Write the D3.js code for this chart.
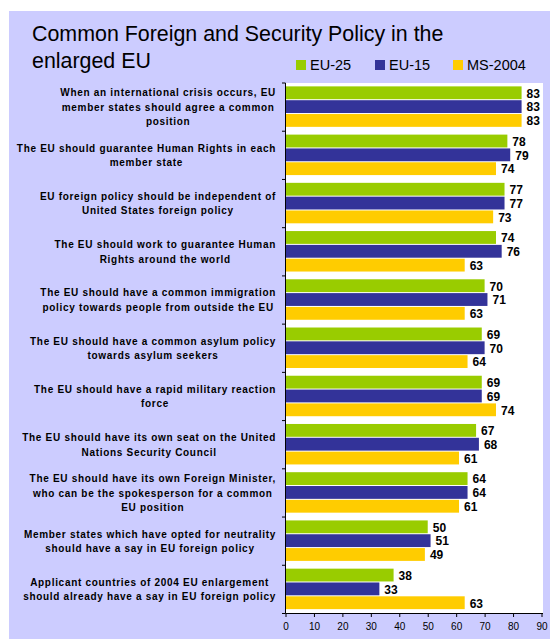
<!DOCTYPE html>
<html><head><meta charset="utf-8">
<script src="https://cdn.jsdelivr.net/npm/d3@7"></script>
<style>body{margin:0;background:#fff;} svg{display:block;}</style>
</head><body>
<script>
const categories = [
  ["When an international crisis occurs, EU","member states should agree a common","position"],
  ["The EU should guarantee Human Rights in each","member state"],
  ["EU foreign policy should be independent of","United States foreign policy"],
  ["The EU should work to guarantee Human","Rights around the world"],
  ["The EU should have a common immigration","policy towards people from outside the EU"],
  ["The EU should have a common asylum policy","towards asylum seekers"],
  ["The EU should have a rapid military reaction","force"],
  ["The EU should have its own seat on the United","Nations Security Council"],
  ["The EU should have its own Foreign Minister,","who can be the spokesperson for a common","EU position"],
  ["Member states which have opted for neutrality","should have a say in EU foreign policy"],
  ["Applicant countries of 2004 EU enlargement","should already have a say in EU foreign policy"]
];
const seriesNames = ["EU-25","EU-15","MS-2004"];
const eu25  = [83,78,77,74,70,69,69,67,64,50,38];
const eu15  = [83,79,77,76,71,70,69,68,64,51,33];
const ms2004= [83,74,73,63,63,64,74,61,61,49,63];
const xTicks = [0,10,20,30,40,50,60,70,80,90];
const colors = ["#99cc00","#333399","#ffcc00"];
const title = ["Common Foreign and Security Policy in the","enlarged EU"];

(function(){
const W=550,H=639;
const svg=d3.select("body").append("svg").attr("width",W).attr("height",H);
svg.append("rect").attr("x",9).attr("y",11).attr("width",W-9).attr("height",H-11).attr("fill","#ccccff");

const pL=285.5, pR=543, pT=83, pB=613.5;
svg.append("rect").attr("x",pL).attr("y",pT).attr("width",pR-pL).attr("height",pB-pT).attr("fill","#fff");

const x=d3.scaleLinear().domain([0,90]).range([pL,pL+256]);
const idx=d3.range(categories.length);
const y=d3.scaleBand().domain(idx).range([pT,pB]).paddingInner(0.14).paddingOuter(0.07);
const sub=d3.scaleBand().domain([0,1,2]).range([0,y.bandwidth()]);
const series=[eu25,eu15,ms2004];
const FF="Liberation Sans, Arial, sans-serif";

title.forEach((t,i)=>svg.append("text").attr("x",32).attr("y",41+i*27)
  .attr("font-family",FF).attr("font-size",21.4).attr("fill","#000").text(t));

const legX=[296,375,453];
seriesNames.forEach((n,i)=>{
  svg.append("rect").attr("x",legX[i]).attr("y",60).attr("width",10).attr("height",10).attr("fill",colors[i]);
  svg.append("text").attr("x",legX[i]+14).attr("y",70).attr("font-family",FF)
    .attr("font-size",14.5).attr("fill","#000").text(n);
});

series.forEach((vals,s)=>{
  const g=svg.append("g");
  g.selectAll("rect").data(idx).join("rect")
    .attr("x",pL).attr("y",d=>y(d)+sub(s)).attr("width",d=>x(vals[d])-pL)
    .attr("height",sub.bandwidth()-1).attr("fill",colors[s]);
  g.selectAll("text").data(idx).join("text")
    .attr("x",d=>x(vals[d])+5).attr("y",d=>y(d)+sub(s)+sub.bandwidth()/2)
    .attr("dy","0.36em").attr("font-family",FF)
    .attr("font-weight","bold").attr("font-size",12).attr("fill","#000").text(d=>vals[d]);
});

const step=(pB-pT)/categories.length;
svg.append("line").attr("x1",pL).attr("x2",pL).attr("y1",pT).attr("y2",pB).attr("stroke","#000");
d3.range(categories.length+1).forEach(k=>{
  svg.append("line").attr("x1",pL-3.5).attr("x2",pL).attr("y1",pT+k*step).attr("y2",pT+k*step).attr("stroke","#000");
});

const xa=svg.append("g").attr("transform",`translate(0,${pB})`)
  .call(d3.axisBottom(x).tickValues(xTicks).tickSize(3.5).tickSizeOuter(0).tickPadding(6));
xa.select(".domain").attr("stroke","#000").attr("d",`M${pL},0H${pR}`);
xa.selectAll("line").attr("stroke","#000");
xa.selectAll("text").attr("font-family",FF).attr("font-size",10).attr("fill","#000");

const lblRight=276, lh=14.5;
categories.forEach((lines,i)=>{
  const g=svg.append("g");
  const cy=y(i)+y.bandwidth()/2;
  const y0=cy-(lines.length-1)*lh/2;
  const ts=lines.map((l,j)=>g.append("text").attr("y",y0+j*lh).attr("dy","0.36em")
    .attr("font-family",FF).attr("font-weight","bold")
    .attr("font-size",10).attr("letter-spacing","0.7px").attr("text-anchor","middle").attr("fill","#000").text(l));
  const mw=d3.max(ts,t=>t.node().getComputedTextLength());
  ts.forEach(t=>t.attr("x",lblRight-mw/2));
});
})();
</script>
</body></html>
